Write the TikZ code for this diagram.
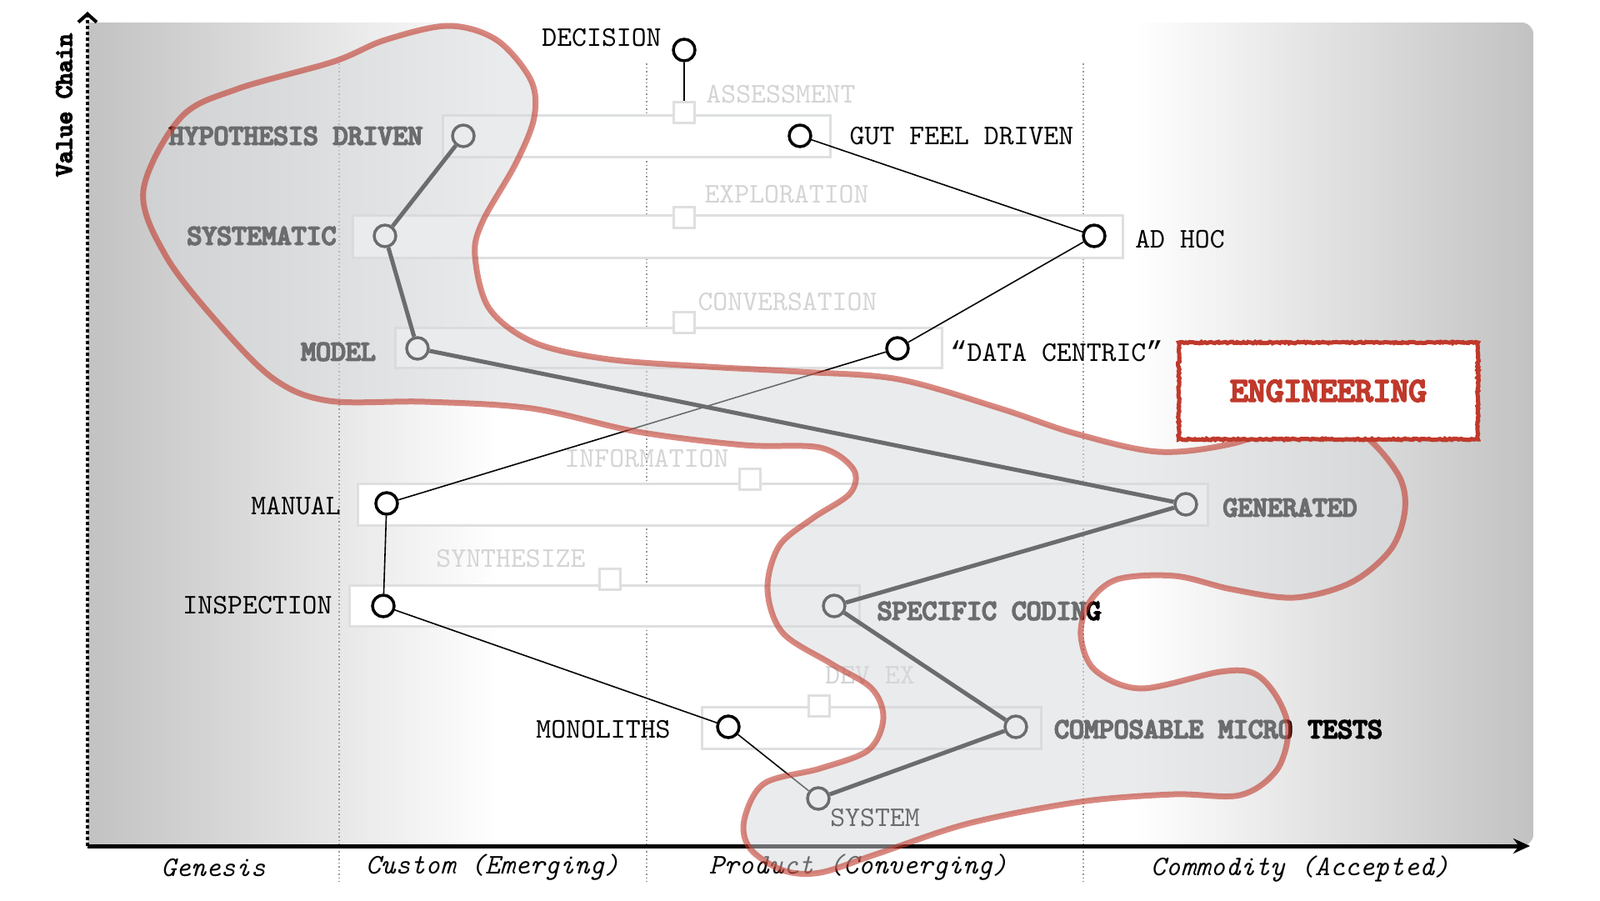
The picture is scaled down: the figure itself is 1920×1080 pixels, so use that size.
\documentclass[tikz,border=0pt]{standalone}
\usepackage{fontspec}
\setmainfont{lmmono10-regular}[Extension=.otf,BoldFont=lmmono10-regular,BoldFeatures={FakeBold=6},ItalicFont=lmmono10-italic]
\newfontfamily\quotefont{Liberation Mono}
\usetikzlibrary{arrows.meta,decorations.pathmorphing,shadows}
\definecolor{engred}{RGB}{192,57,43}
\definecolor{barline}{RGB}{222,223,224}
\definecolor{faintgray}{RGB}{212,212,212}
\definecolor{bgdark}{RGB}{194,194,194}
\definecolor{blobfill}{RGB}{214,216,218}
\definecolor{gridgray}{RGB}{150,150,150}
\newcommand{\mapfont}{\fontsize{34.1}{38}\selectfont}
\tikzset{
  stage/.style={circle,draw,line width=3.5pt,minimum size=26pt,inner sep=0pt,fill=white},
  slider/.style={rectangle,draw=barline,line width=3pt,minimum size=25pt,inner sep=0pt,fill=white},
  track/.style={draw=barline,line width=3pt,fill=white},
  lbl/.style={inner sep=0pt,font=\mapfont},
  lblb/.style={inner sep=0pt,font=\mapfont\bfseries},
  dim/.style={lbl,text=faintgray},
  phase/.style={inner sep=0pt,font=\mapfont\itshape},
  thinlink/.style={line width=1.6pt},
  thicklink/.style={line width=5pt},
  evoline/.style={draw=gridgray,line width=1.5pt,dash pattern=on 1.5pt off 3pt},
  blob/.style={draw=engred,draw opacity=.6,line width=7pt,fill=blobfill,fill opacity=.5},
  tag/.style={draw=engred,line width=5pt,fill=white,minimum width=359pt,minimum height=116pt,
    decorate,decoration={random steps,segment length=2pt,amplitude=.9pt},
    drop shadow={shadow xshift=2pt,shadow yshift=-3pt,opacity=.3},
    text=engred,font=\fontsize{40.8}{45}\selectfont\bfseries}
}

\begin{document}
\begin{tikzpicture}[x=1pt,y=-1pt]
  \useasboundingbox (0,0) rectangle (1920,1080);
  \begin{scope}
    \clip[rounded corners=14pt] (60,27) rectangle (1840,1015);
    \shade[left color=bgdark,right color=white] (105,27) rectangle (600,1015);
    \shade[left color=white,right color=bgdark] (1360,27) rectangle (1840,1015);
  \end{scope}
  \foreach \gx in {407,776,1300} \draw[evoline] (\gx,76) -- (\gx,1058);

  \coordinate (orig) at (105,1015);
  \coordinate (xend) at (1836,1015);
  \coordinate (yend) at (105,14);
  \draw[line width=5pt,-{Stealth[length=20pt,width=18pt]}] (orig) -- (xend);
  \draw[line width=4pt,dash pattern=on 4pt off 3pt,-{Straight Barb[length=10pt,width=22pt]}] (orig) -- (yend);
  \node[lblb,rotate=90,font=\fontsize{29.7}{33}\selectfont\bfseries] (vchain) at (77,126) {Value Chain};

  \node[phase] (genesis) at (256,1041) {Genesis};
  \node[phase] (custom) at (591,1041) {Custom (Emerging)};
  \node[phase] (product) at (1030,1041) {Product (Converging)};
  \node[phase] (commodity) at (1560,1043) {Commodity (Accepted)};

  \draw[track] (531,138) rectangle (996,188);
  \draw[track] (423,258) rectangle (1347,309);
  \draw[track] (474,393) rectangle (1130,441);
  \draw[track] (429,580) rectangle (1449,630);
  \draw[track] (419,702) rectangle (1031,751);
  \draw[track] (842,848) rectangle (1249,898);

  \node[slider] (assess) at (821,135) {};
  \node[slider] (explore) at (821,261) {};
  \node[slider] (convo) at (821,387) {};
  \node[slider] (info) at (900,575) {};
  \node[slider] (synth) at (732,695) {};
  \node[slider] (devex) at (983,847) {};
  \node[dim] (assessL) at (937,113) {ASSESSMENT};
  \node[dim] (exploreL) at (944,233) {EXPLORATION};
  \node[dim] (convoL) at (945,362) {CONVERSATION};
  \node[dim] (infoL) at (776,550) {INFORMATION};
  \node[dim] (synthL) at (613,670) {SYNTHESIZE};
  \node[dim] (devexL) at (1044,810) {DEV EX};

  \node[stage] (dec) at (821,60) {};
  \node[stage] (hyp) at (556,163) {};
  \node[stage] (gut) at (960,163) {};
  \node[stage] (sys) at (462,283) {};
  \node[stage] (adhoc) at (1313,283) {};
  \node[stage] (mod) at (501,418) {};
  \node[stage] (data) at (1077,418) {};
  \node[stage] (man) at (464,604) {};
  \node[stage] (gen) at (1423,605) {};
  \node[stage] (insp) at (460,727) {};
  \node[stage] (spec) at (1001,727) {};
  \node[stage] (mono) at (874,872) {};
  \node[stage] (comp) at (1219,872) {};
  \node[stage] (syst) at (982,958) {};

  \draw[thinlink] (dec) -- (assess);
  \draw[thinlink] (gut) -- (adhoc);
  \draw[thinlink] (adhoc) -- (data);
  \draw[thinlink] (data) -- (man);
  \draw[thinlink] (man) -- (insp);
  \draw[thinlink] (insp) -- (mono);
  \draw[thinlink] (mono) -- (syst);
  \draw[thicklink] (hyp) -- (sys);
  \draw[thicklink] (sys) -- (mod);
  \draw[thicklink] (mod) -- (gen);
  \draw[thicklink] (gen) -- (spec);
  \draw[thicklink] (spec) -- (comp);
  \draw[thicklink] (comp) -- (syst);

  \node[lbl] (decL) at (722,45) {DECISION};
  \node[lblb] (hypL) at (355,163) {HYPOTHESIS DRIVEN};
  \node[lbl] (gutL) at (1154,163) {GUT FEEL DRIVEN};
  \node[lblb] (sysL) at (314,283) {SYSTEMATIC};
  \node[lbl] (adhocL) at (1416,287) {AD HOC};
  \node[lblb] (modL) at (406,422) {MODEL};
  \node[lbl] (dataL) at (1268,421) {{\quotefont “}DATA CENTRIC{\quotefont ”}};
  \node[lbl] (manL) at (355,607) {MANUAL};
  \node[lblb] (genL) at (1548,609) {GENERATED};
  \node[lbl] (inspL) at (309,726) {INSPECTION};
  \node[lblb] (specL) at (1187,733) {SPECIFIC CODING};
  \node[lbl] (monoL) at (724,875) {MONOLITHS};
  \node[lblb] (compL) at (1462,875) {COMPOSABLE MICRO TESTS};
  \node[lbl] (systL) at (1050,981) {SYSTEM};

  \draw[blob] plot[smooth cycle,tension=.55] coordinates {
    (538,31) (596,48) (637,96) (641,141) (619,196) (579,266) (570,307) (587,370)
    (641,411) (730,431) (850,440) (960,446) (1078,455) (1200,490) (1290,520)
    (1390,542) (1480,532) (1560,505) (1630,518) (1677,568) (1686,611) (1669,659)
    (1621,699) (1553,717) (1478,707) (1410,691) (1341,695) (1307,723) (1297,763)
    (1314,804) (1369,826) (1464,806) (1505,808) (1532,836) (1546,876) (1532,924)
    (1488,954) (1408,953) (1296,962) (1162,988) (1051,1025) (984,1047) (939,1044)
    (900,1018) (893,984) (917,940) (984,922) (1042,900) (1060,862) (1046,826)
    (997,796) (939,759) (921,707) (935,655) (975,622) (1020,592) (1024,563)
    (984,537) (893,534) (765,518) (638,490) (510,482) (395,481) (329,455)
    (262,388) (199,307) (172,229) (217,141) (284,107) (400,74) (462,48)};

  \node[tag] (eng) at (1594,469) {ENGINEERING};
\end{tikzpicture}
\end{document}
